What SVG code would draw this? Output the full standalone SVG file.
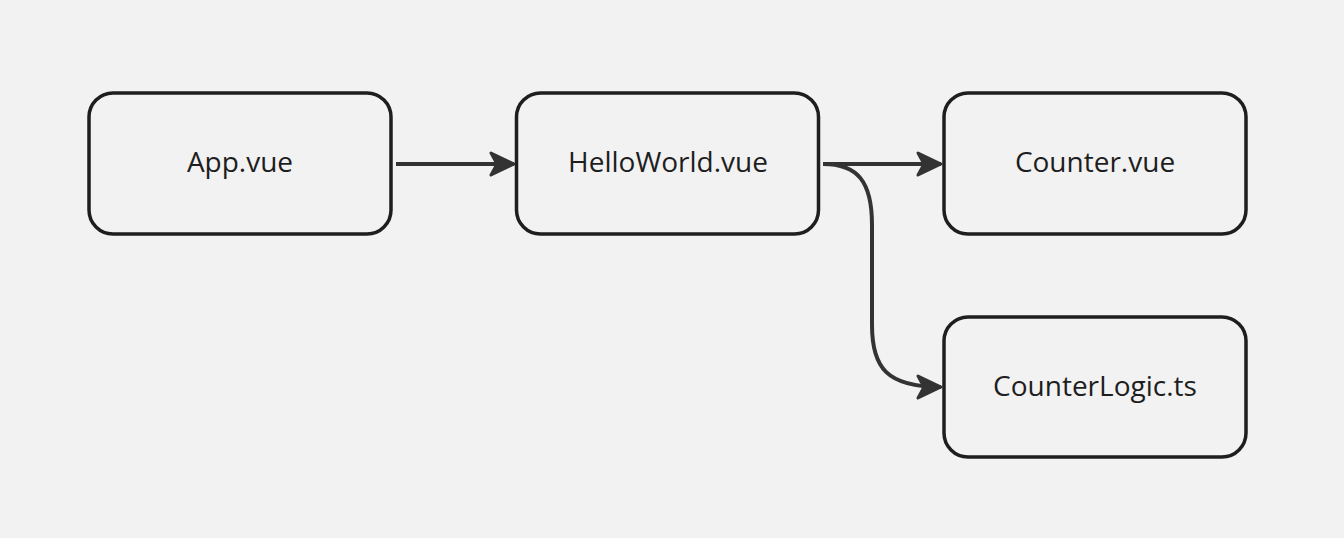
<svg xmlns="http://www.w3.org/2000/svg" width="1344" height="538" viewBox="0 0 1344 538">
<defs>
<style>
.box{fill:#f2f2f2;stroke:#1e1e1e;stroke-width:3.5}
.lbl{font-family:"Open Sans",sans-serif;font-size:28px;fill:#1e1e1e;text-anchor:middle;dominant-baseline:central}
.edge{fill:none;stroke:#333;stroke-width:4}
</style>
<marker id="ah" viewBox="0 0 30 30" refX="27" refY="15" markerWidth="30" markerHeight="30" markerUnits="userSpaceOnUse" orient="auto">
<path d="M4 4 L27 15 L4 26 L10 15 Z" fill="#333" stroke="#333" stroke-width="3" stroke-linejoin="round"/>
</marker>
</defs>
<rect width="1344" height="538" fill="#f2f2f2"/>
<g id="connectors">
<path class="edge" d="M396 164 L514 164" marker-end="url(#ah)"/>
<path class="edge" d="M823 164 L941 164" marker-end="url(#ah)"/>
<path class="edge" d="M823 164 C858 164 872 182 872 225 L872 325 C872 368 887 387 941 387" marker-end="url(#ah)"/>
</g>
<g id="app"><rect class="box" x="89" y="93" width="302" height="141" rx="24"/><text class="lbl" x="240" y="161">App.vue</text></g>
<g id="hello"><rect class="box" x="516.5" y="93" width="302" height="141" rx="24"/><text class="lbl" x="668" y="161">HelloWorld.vue</text></g>
<g id="counter"><rect class="box" x="944" y="93" width="302" height="141" rx="24"/><text class="lbl" x="1095" y="161">Counter.vue</text></g>
<g id="logic"><rect class="box" x="944" y="317" width="302" height="140" rx="24"/><text class="lbl" x="1095" y="385">CounterLogic.ts</text></g>
</svg>
